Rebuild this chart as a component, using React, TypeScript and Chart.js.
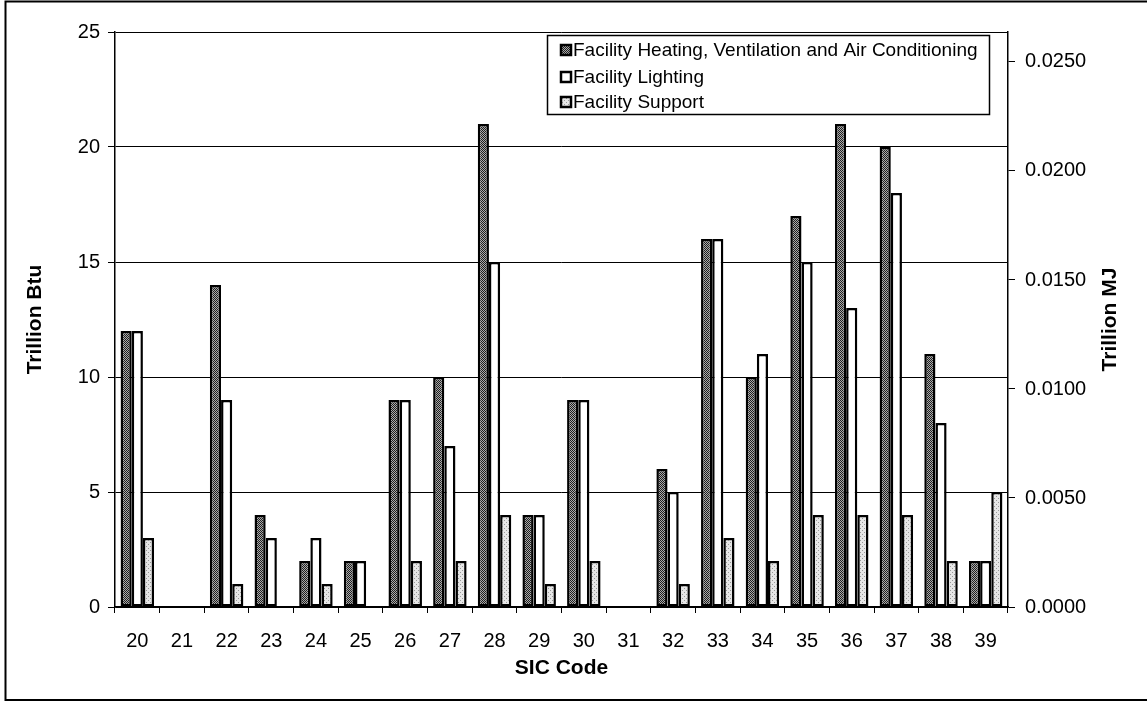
import React, { useEffect, useRef } from "react";
import { Chart, registerables } from "chart.js";

Chart.register(...registerables);

const categories = ["20", "21", "22", "23", "24", "25", "26", "27", "28", "29", "30", "31", "32", "33", "34", "35", "36", "37", "38", "39"];
const hvacValues = [12, 0, 14, 4, 2, 2, 9, 10, 21, 4, 9, 0, 6, 16, 10, 17, 21, 20, 11, 2];
const lightingValues = [12, 0, 9, 3, 3, 2, 9, 7, 15, 4, 9, 0, 5, 16, 11, 15, 13, 18, 8, 2];
const supportValues = [3, 0, 1, 0, 1, 0, 2, 2, 4, 1, 2, 0, 1, 3, 2, 4, 4, 4, 2, 5];
const seriesNames = [
  "Facility Heating, Ventilation and Air Conditioning",
  "Facility Lighting",
  "Facility Support",
];
const leftTitle = "Trillion Btu";
const rightTitle = "Trillion MJ";
const xTitle = "SIC Code";
const leftMax = 25;
const rightMax = 0.026375; // 25 trillion Btu expressed in trillion MJ

function makePattern(fg: string, bg: string, dots: number[][], size: number) {
  const c = document.createElement("canvas");
  c.width = size;
  c.height = size;
  const g = c.getContext("2d")!;
  g.fillStyle = bg;
  g.fillRect(0, 0, size, size);
  g.fillStyle = fg;
  dots.forEach(([x, y]) => g.fillRect(x, y, 1, 1));
  const ctx = document.createElement("canvas").getContext("2d")!;
  return ctx.createPattern(c, "repeat")!;
}

export default function App() {
  const ref = useRef<HTMLCanvasElement | null>(null);

  useEffect(() => {
    const canvas = ref.current!;
    const hvacPat = makePattern("#1e1e1e", "#aaaaaa", [[0, 0], [1, 1]], 2);
    const supPat = makePattern("#999999", "#e6e6e6", [[0, 0], [2, 2]], 4);
    const fills: (string | CanvasPattern)[] = [hvacPat, "#ffffff", supPat];

    const overlay = {
      id: "overlay",
      afterDraw(chart: any) {
        const ctx = chart.ctx as CanvasRenderingContext2D;
        const area = chart.chartArea;
        ctx.save();
        // outer frame
        ctx.strokeStyle = "#000";
        ctx.lineWidth = 2;
        ctx.beginPath();
        ctx.moveTo(1147, 1.5);
        ctx.lineTo(5.5, 1.5);
        ctx.lineTo(5.5, 700);
        ctx.lineTo(1147, 700);
        ctx.stroke();

        // axis titles
        ctx.fillStyle = "#000";
        ctx.font = "bold 21px 'Liberation Sans', Arial, sans-serif";
        ctx.textAlign = "center";
        ctx.textBaseline = "middle";
        const midY = (area.top + area.bottom) / 2;
        ctx.save();
        ctx.translate(35, midY);
        ctx.rotate(-Math.PI / 2);
        ctx.fillText(leftTitle, 0, 0);
        ctx.restore();
        ctx.save();
        ctx.translate(1110, midY);
        ctx.rotate(-Math.PI / 2);
        ctx.fillText(rightTitle, 0, 0);
        ctx.restore();
        ctx.fillText(xTitle, (area.left + area.right) / 2, 668);

        // legend
        const lx = 547, ly = 35, lw = 442, lh = 79;
        ctx.fillStyle = "#fff";
        ctx.fillRect(lx, ly, lw, lh);
        ctx.lineWidth = 1.5;
        ctx.strokeStyle = "#000";
        ctx.strokeRect(lx + 0.5, ly + 0.5, lw, lh);
        const rows = [50, 77, 102];
        ctx.font = "19px 'Liberation Sans', Arial, sans-serif";
        ctx.textAlign = "left";
        rows.forEach((y, i) => {
          ctx.fillStyle = fills[i] as any;
          ctx.fillRect(561, y - 5, 10, 10);
          ctx.lineWidth = 2.5;
          ctx.strokeStyle = "#000";
          ctx.strokeRect(561, y - 5, 10, 10);
          ctx.fillStyle = "#000";
          ctx.fillText(seriesNames[i], 573, y + 1);
        });
        ctx.restore();
      },
    };

    const chart = new Chart(canvas, {
      type: "bar",
      data: {
        labels: categories,
        datasets: [
          { label: seriesNames[0], data: hvacValues, backgroundColor: hvacPat as any, borderColor: "#000", borderWidth: 2.5, borderSkipped: false, yAxisID: "y" },
          { label: seriesNames[1], data: lightingValues, backgroundColor: "#ffffff", borderColor: "#000", borderWidth: 2.5, borderSkipped: false, yAxisID: "y" },
          { label: seriesNames[2], data: supportValues, backgroundColor: supPat as any, borderColor: "#000", borderWidth: 2.5, borderSkipped: false, yAxisID: "y" },
        ],
      },
      options: {
        animation: false,
        responsive: false,
        devicePixelRatio: 1,
        layout: { padding: { top: 32, left: 0, right: 0, bottom: 0 } },
        datasets: { bar: { categoryPercentage: 0.75, barPercentage: 1 } },
        plugins: { legend: { display: false }, tooltip: { enabled: false }, title: { display: false } },
        scales: {
          x: {
            type: "category",
            offset: true,
            grid: { display: true, offset: true, drawOnChartArea: false, color: "#000", lineWidth: 1, tickLength: 6 },
            border: { display: true, color: "#000", width: 1.5 },
            ticks: { color: "#000", padding: 16, maxRotation: 0, autoSkip: false, font: { family: "'Liberation Sans', Arial, sans-serif", size: 20 } },
            afterFit: (s: any) => { s.height = 99; },
          },
          y: {
            type: "linear",
            position: "left",
            min: 0,
            max: leftMax,
            ticks: { stepSize: 5, color: "#000", padding: 8, font: { family: "'Liberation Sans', Arial, sans-serif", size: 20 } },
            grid: { color: "#000", lineWidth: 1, tickLength: 7 },
            border: { display: true, color: "#000", width: 1.5 },
            afterFit: (s: any) => { s.width = 115; },
          },
          y2: {
            type: "linear",
            position: "right",
            display: true,
            min: 0,
            max: rightMax,
            ticks: {
              stepSize: 0.005,
              includeBounds: false,
              color: "#000",
              padding: 10,
              font: { family: "'Liberation Sans', Arial, sans-serif", size: 20 },
              callback: (v: any) => Number(v).toFixed(4),
            },
            afterBuildTicks: (s: any) => { s.ticks = s.ticks.filter((t: any) => t.value <= 0.02501); },
            grid: { drawOnChartArea: false, color: "#000", lineWidth: 1, tickLength: 7 },
            border: { display: true, color: "#000", width: 1.5 },
            afterFit: (s: any) => { s.width = 139; },
          },
        },
      },
      plugins: [overlay],
    } as any);
    return () => chart.destroy();
  }, []);

  return (
    <div style={{ position: "absolute", left: 0, top: 0, width: 1147, height: 706, background: "#fff" }}>
      <canvas ref={ref} width={1147} height={706} style={{ display: "block", width: 1147, height: 706 }} />
    </div>
  );
}
